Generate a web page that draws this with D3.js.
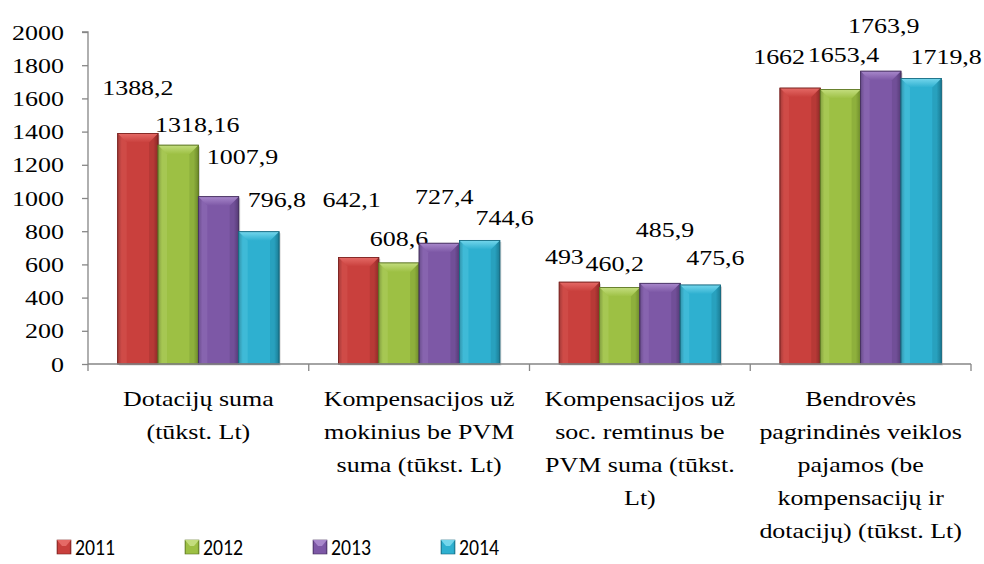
<!DOCTYPE html>
<html><head><meta charset="utf-8">
<script src="https://cdn.jsdelivr.net/npm/d3@7"></script>
<style>body{margin:0;background:#fff}svg{display:block}</style>
</head><body><svg id="c" width="984" height="564"></svg>
<script>
const categories = [
  ["Dotacijų suma","(tūkst. Lt)"],
  ["Kompensacijos už","mokinius be PVM","suma (tūkst. Lt)"],
  ["Kompensacijos už","soc. remtinus be","PVM suma (tūkst.","Lt)"],
  ["Bendrovės","pagrindinės veiklos","pajamos (be","kompensacijų ir","dotacijų) (tūkst. Lt)"]
];
const series = ["2011","2012","2013","2014"];
const v2011 = [1388.2, 642.1, 493, 1662];
const v2012 = [1318.16, 608.6, 460.2, 1653.4];
const v2013 = [1007.9, 727.4, 485.9, 1763.9];
const v2014 = [796.8, 744.6, 475.6, 1719.8];
const labels2011 = ["1388,2","642,1","493","1662"];
const labels2012 = ["1318,16","608,6","460,2","1653,4"];
const labels2013 = ["1007,9","727,4","485,9","1763,9"];
const labels2014 = ["796,8","744,6","475,6","1719,8"];
const yTicks = [0,200,400,600,800,1000,1200,1400,1600,1800,2000];
// label nudges [dx from bar centre, dy of text centre from bar top]
const nudge = [
  [[0,-46],[19,-21],[24,-40],[18,-32]],
  [[-7,-58],[0,-24],[5,-47],[25,-23]],
  [[-15,-26],[-5,-24],[5,-54],[15,-28]],
  [[-21,-32],[3,-35],[3,-46],[25,-22]]
];
const values = [v2011,v2012,v2013,v2014];
const labels = [labels2011,labels2012,labels2013,labels2014];
const colors = [
  {base:"#C9403D",light:"#E56A66",dark:"#8E2A28",edge:"#7a2220"},
  {base:"#9DC044",light:"#C3DD7E",dark:"#6E8B2C",edge:"#5d7624"},
  {base:"#7D58A6",light:"#A888CB",dark:"#553A77",edge:"#46305f"},
  {base:"#2EB0D0",light:"#74D6EC",dark:"#1C7D96",edge:"#176a80"}
];

const svg = d3.select("#c");
const serif = "'Liberation Serif','Times New Roman',serif";
const FS = 22, SX = 1.18;

const x0 = d3.scaleBand().domain(d3.range(categories.length)).range([88,971]);
const x1 = d3.scaleBand().domain(d3.range(series.length)).range([29.7, x0.bandwidth()-29.7]);
const y = d3.scaleLinear().domain([0,2000]).range([364,32]);

function stext(g, x, yb, str, anchor, size, fam, fill, sx){
  const t = g.append("g").attr("transform",`translate(${x},${yb}) scale(${sx||SX},1)`);
  t.append("text").attr("text-anchor",anchor).attr("font-family",fam||serif)
    .attr("font-size",size||FS).attr("fill",fill||"#000").text(str);
}

const defs = svg.append("defs");
colors.forEach((c,i)=>{
  const g = defs.append("linearGradient").attr("id","g"+i).attr("x1","0").attr("x2","1").attr("y1","0").attr("y2","0");
  [[0,c.dark],[0.1,c.base],[0.5,c.base],[0.88,c.base],[1,c.dark]].forEach(s=>g.append("stop").attr("offset",s[0]).attr("stop-color",s[1]));
  const gv = defs.append("linearGradient").attr("id","t"+i).attr("x1","0").attr("x2","0").attr("y1","0").attr("y2","1");
  [[0,c.light],[1,c.base]].forEach(s=>gv.append("stop").attr("offset",s[0]).attr("stop-color",s[1]));
});

// y axis
const ax = svg.append("g").attr("transform","translate(88,0)");
ax.call(d3.axisLeft(y).tickValues(yTicks).tickSize(6).tickFormat(""));
ax.selectAll("path,line").attr("stroke","#868686").attr("stroke-width",1.3);
ax.select(".domain").attr("d",`M-6,${y(2000)}H0V${y(0)}`);
yTicks.forEach(t=>stext(svg, 64, y(t)+7.5, String(t), "end"));

// bars
categories.forEach((cat,ci)=>{
  series.forEach((s,si)=>{
    const v = values[si][ci];
    const bx = x0(ci)+x1(si), bw = x1.bandwidth(), by = y(v), bh = y(0)-y(v);
    const c = colors[si];
    const g = svg.append("g");
    g.append("rect").attr("x",bx+1.5).attr("y",by+1.5).attr("width",bw).attr("height",bh)
      .attr("fill","#000").attr("opacity",0.18);
    g.append("rect").attr("x",bx).attr("y",by).attr("width",bw).attr("height",bh)
      .attr("fill",`url(#g${si})`).attr("stroke",c.edge).attr("stroke-width",0.8);
    const b = Math.min(9, bh/2);
    g.append("polygon").attr("points",`${bx},${by} ${bx+bw},${by} ${bx+bw-b},${by+b} ${bx+b},${by+b}`)
      .attr("fill",`url(#t${si})`);
    g.append("polygon").attr("points",`${bx},${by} ${bx+b},${by+b} ${bx+b},${by+bh} ${bx},${by+bh}`)
      .attr("fill",c.light).attr("opacity",0.25);
    g.append("polygon").attr("points",`${bx+bw},${by} ${bx+bw-b},${by+b} ${bx+bw-b},${by+bh} ${bx+bw},${by+bh}`)
      .attr("fill",c.dark).attr("opacity",0.3);
    g.append("rect").attr("x",bx).attr("y",by).attr("width",bw).attr("height",bh)
      .attr("fill","none").attr("stroke",c.edge).attr("stroke-width",0.8);
    const n = nudge[ci][si];
    stext(svg, bx+bw/2+n[0], by+n[1]+7.5, labels[si][ci], "middle");
  });
});

// x axis
const xa = svg.append("g").attr("transform","translate(0,364)");
xa.append("line").attr("x1",88).attr("x2",971).attr("stroke","#868686").attr("stroke-width",1.3);
d3.range(categories.length+1).forEach(i=>{
  const xx = 88 + i*x0.bandwidth();
  xa.append("line").attr("x1",xx).attr("x2",xx).attr("y1",0).attr("y2",7).attr("stroke","#868686").attr("stroke-width",1.3);
});
categories.forEach((lines,ci)=>{
  lines.forEach((ln,li)=>stext(svg, x0(ci)+x0.bandwidth()/2, 406+li*33, ln, "middle"));
});

// legend
const legX = [57,185,313,441];
series.forEach((s,si)=>{
  const c = colors[si];
  const lx = legX[si], ly = 540;
  svg.append("rect").attr("x",lx).attr("y",ly).attr("width",14).attr("height",14).attr("fill",`url(#g${si})`).attr("stroke",c.edge).attr("stroke-width",0.6);
  svg.append("polygon").attr("points",`${lx},${ly} ${lx+14},${ly} ${lx+9},${ly+6} ${lx+5},${ly+6}`).attr("fill",c.light);
  stext(svg, lx+18, ly+14.5, s, "start", 23, "Carlito,Lato,'Open Sans',sans-serif", "#000", 0.86);
});
</script></body></html>
